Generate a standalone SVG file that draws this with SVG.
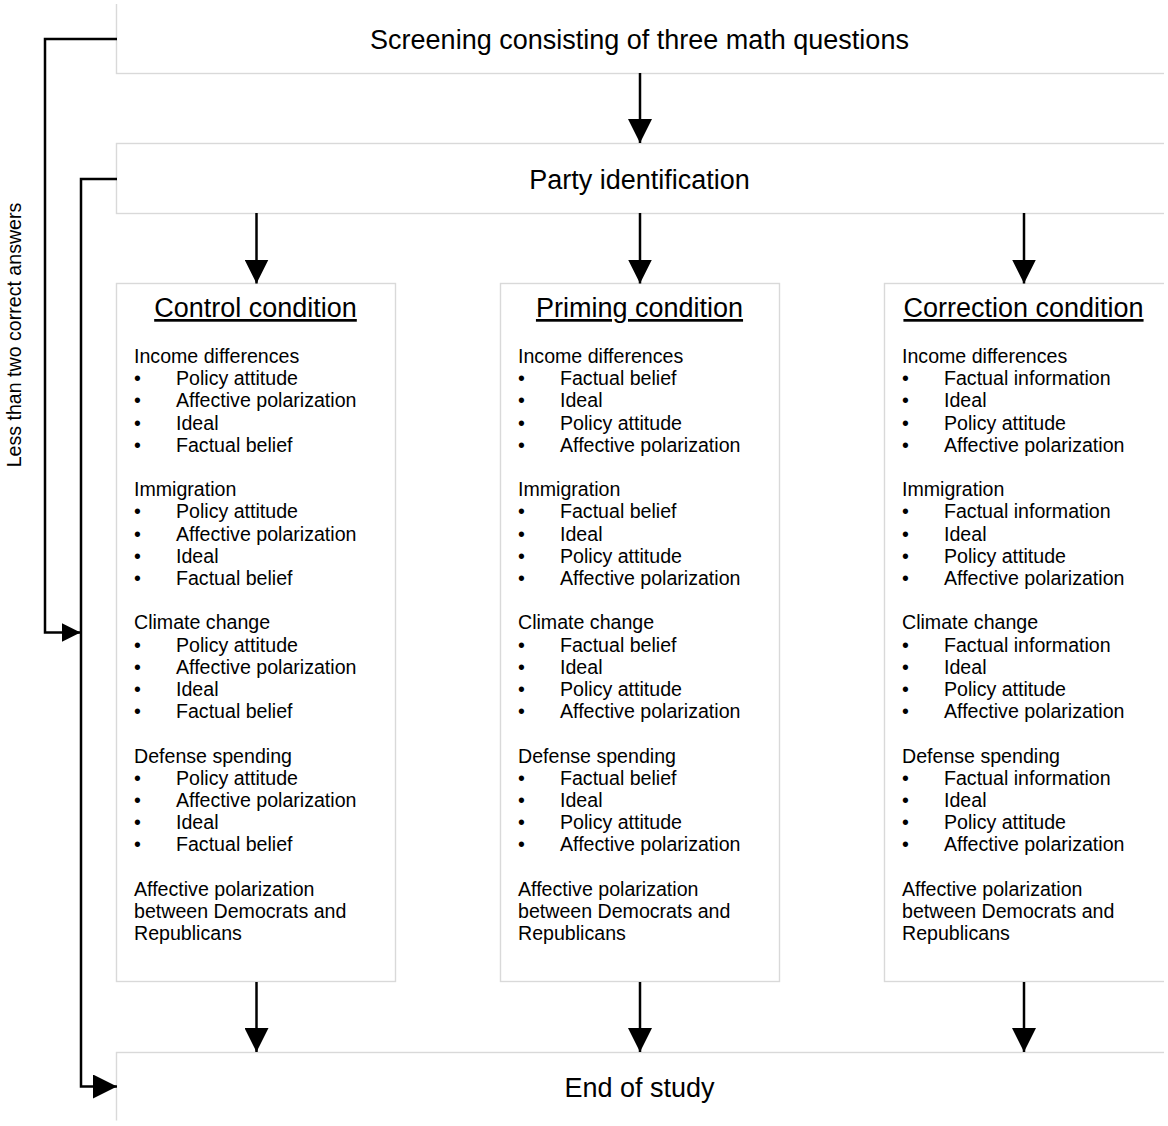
<svg xmlns="http://www.w3.org/2000/svg" width="1168" height="1126" viewBox="0 0 1168 1126">
<style>
.box{fill:#fff;stroke:#d9d9d9;stroke-width:1.4}
.big{font-family:"Liberation Sans",Arial,sans-serif;font-size:27px;fill:#000}
.ttl{font-family:"Liberation Sans",Arial,sans-serif;font-size:27px;fill:#000;text-anchor:middle;text-decoration:underline}
.t{font-family:"Liberation Sans",Arial,sans-serif;font-size:19.6px;fill:#000}
.ln{fill:none;stroke:#000;stroke-width:2.5}
</style>
<defs>
<clipPath id="frame"><rect x="0" y="4" width="1164" height="1116.5"/></clipPath>
<marker id="ah" markerUnits="userSpaceOnUse" markerWidth="24" markerHeight="24" refX="24" refY="12" orient="auto" viewBox="0 0 24 24"><path d="M0,0 L24,12 L0,24 z" fill="#000"/></marker>
<marker id="ahs" markerUnits="userSpaceOnUse" markerWidth="19" markerHeight="19" refX="19" refY="9.5" orient="auto" viewBox="0 0 19 19"><path d="M0,0 L19,9.5 L0,19 z" fill="#000"/></marker>
</defs>
<rect width="1168" height="1126" fill="#fff"/>

<g id="screening">
<rect class="box" x="116.5" y="-10" width="1070" height="83.5" clip-path="url(#frame)"/>
<text class="big" x="639.5" y="49" text-anchor="middle">Screening consisting of three math questions</text>
</g>

<g id="party">
<rect class="box" x="116.5" y="143.5" width="1070" height="70" clip-path="url(#frame)"/>
<text class="big" x="639.5" y="189" text-anchor="middle">Party identification</text>
</g>

<g id="control">
<rect class="box" x="116.5" y="283.5" width="279" height="698"/>
<text class="ttl" x="255.5" y="317">Control condition</text>
<text class="t">
<tspan x="134" y="363">Income differences</tspan>
<tspan x="134" y="385.2">•</tspan><tspan x="176" y="385.2">Policy attitude</tspan>
<tspan x="134" y="407.4">•</tspan><tspan x="176" y="407.4">Affective polarization</tspan>
<tspan x="134" y="429.6">•</tspan><tspan x="176" y="429.6">Ideal</tspan>
<tspan x="134" y="451.8">•</tspan><tspan x="176" y="451.8">Factual belief</tspan>
<tspan x="134" y="496.2">Immigration</tspan>
<tspan x="134" y="518.4">•</tspan><tspan x="176" y="518.4">Policy attitude</tspan>
<tspan x="134" y="540.6">•</tspan><tspan x="176" y="540.6">Affective polarization</tspan>
<tspan x="134" y="562.8">•</tspan><tspan x="176" y="562.8">Ideal</tspan>
<tspan x="134" y="585">•</tspan><tspan x="176" y="585">Factual belief</tspan>
<tspan x="134" y="629.4">Climate change</tspan>
<tspan x="134" y="651.6">•</tspan><tspan x="176" y="651.6">Policy attitude</tspan>
<tspan x="134" y="673.8">•</tspan><tspan x="176" y="673.8">Affective polarization</tspan>
<tspan x="134" y="696">•</tspan><tspan x="176" y="696">Ideal</tspan>
<tspan x="134" y="718.2">•</tspan><tspan x="176" y="718.2">Factual belief</tspan>
<tspan x="134" y="762.6">Defense spending</tspan>
<tspan x="134" y="784.8">•</tspan><tspan x="176" y="784.8">Policy attitude</tspan>
<tspan x="134" y="807">•</tspan><tspan x="176" y="807">Affective polarization</tspan>
<tspan x="134" y="829.2">•</tspan><tspan x="176" y="829.2">Ideal</tspan>
<tspan x="134" y="851.4">•</tspan><tspan x="176" y="851.4">Factual belief</tspan>
<tspan x="134" y="895.8">Affective polarization</tspan>
<tspan x="134" y="918">between Democrats and</tspan>
<tspan x="134" y="940.2">Republicans</tspan>
</text>
</g>

<g id="priming">
<rect class="box" x="500.5" y="283.5" width="279" height="698"/>
<text class="ttl" x="639.5" y="317">Priming condition</text>
<text class="t">
<tspan x="518" y="363">Income differences</tspan>
<tspan x="518" y="385.2">•</tspan><tspan x="560" y="385.2">Factual belief</tspan>
<tspan x="518" y="407.4">•</tspan><tspan x="560" y="407.4">Ideal</tspan>
<tspan x="518" y="429.6">•</tspan><tspan x="560" y="429.6">Policy attitude</tspan>
<tspan x="518" y="451.8">•</tspan><tspan x="560" y="451.8">Affective polarization</tspan>
<tspan x="518" y="496.2">Immigration</tspan>
<tspan x="518" y="518.4">•</tspan><tspan x="560" y="518.4">Factual belief</tspan>
<tspan x="518" y="540.6">•</tspan><tspan x="560" y="540.6">Ideal</tspan>
<tspan x="518" y="562.8">•</tspan><tspan x="560" y="562.8">Policy attitude</tspan>
<tspan x="518" y="585">•</tspan><tspan x="560" y="585">Affective polarization</tspan>
<tspan x="518" y="629.4">Climate change</tspan>
<tspan x="518" y="651.6">•</tspan><tspan x="560" y="651.6">Factual belief</tspan>
<tspan x="518" y="673.8">•</tspan><tspan x="560" y="673.8">Ideal</tspan>
<tspan x="518" y="696">•</tspan><tspan x="560" y="696">Policy attitude</tspan>
<tspan x="518" y="718.2">•</tspan><tspan x="560" y="718.2">Affective polarization</tspan>
<tspan x="518" y="762.6">Defense spending</tspan>
<tspan x="518" y="784.8">•</tspan><tspan x="560" y="784.8">Factual belief</tspan>
<tspan x="518" y="807">•</tspan><tspan x="560" y="807">Ideal</tspan>
<tspan x="518" y="829.2">•</tspan><tspan x="560" y="829.2">Policy attitude</tspan>
<tspan x="518" y="851.4">•</tspan><tspan x="560" y="851.4">Affective polarization</tspan>
<tspan x="518" y="895.8">Affective polarization</tspan>
<tspan x="518" y="918">between Democrats and</tspan>
<tspan x="518" y="940.2">Republicans</tspan>
</text>
</g>

<g id="correction">
<rect class="box" x="884.5" y="283.5" width="300" height="698" clip-path="url(#frame)"/>
<text class="ttl" x="1023.5" y="317">Correction condition</text>
<text class="t">
<tspan x="902" y="363">Income differences</tspan>
<tspan x="902" y="385.2">•</tspan><tspan x="944" y="385.2">Factual information</tspan>
<tspan x="902" y="407.4">•</tspan><tspan x="944" y="407.4">Ideal</tspan>
<tspan x="902" y="429.6">•</tspan><tspan x="944" y="429.6">Policy attitude</tspan>
<tspan x="902" y="451.8">•</tspan><tspan x="944" y="451.8">Affective polarization</tspan>
<tspan x="902" y="496.2">Immigration</tspan>
<tspan x="902" y="518.4">•</tspan><tspan x="944" y="518.4">Factual information</tspan>
<tspan x="902" y="540.6">•</tspan><tspan x="944" y="540.6">Ideal</tspan>
<tspan x="902" y="562.8">•</tspan><tspan x="944" y="562.8">Policy attitude</tspan>
<tspan x="902" y="585">•</tspan><tspan x="944" y="585">Affective polarization</tspan>
<tspan x="902" y="629.4">Climate change</tspan>
<tspan x="902" y="651.6">•</tspan><tspan x="944" y="651.6">Factual information</tspan>
<tspan x="902" y="673.8">•</tspan><tspan x="944" y="673.8">Ideal</tspan>
<tspan x="902" y="696">•</tspan><tspan x="944" y="696">Policy attitude</tspan>
<tspan x="902" y="718.2">•</tspan><tspan x="944" y="718.2">Affective polarization</tspan>
<tspan x="902" y="762.6">Defense spending</tspan>
<tspan x="902" y="784.8">•</tspan><tspan x="944" y="784.8">Factual information</tspan>
<tspan x="902" y="807">•</tspan><tspan x="944" y="807">Ideal</tspan>
<tspan x="902" y="829.2">•</tspan><tspan x="944" y="829.2">Policy attitude</tspan>
<tspan x="902" y="851.4">•</tspan><tspan x="944" y="851.4">Affective polarization</tspan>
<tspan x="902" y="895.8">Affective polarization</tspan>
<tspan x="902" y="918">between Democrats and</tspan>
<tspan x="902" y="940.2">Republicans</tspan>
</text>
</g>

<g id="end">
<rect class="box" x="116.5" y="1052.5" width="1070" height="90" clip-path="url(#frame)"/>
<text class="big" x="639.5" y="1097" text-anchor="middle">End of study</text>
</g>

<g id="connectors">
<path class="ln" d="M640,73 V143" marker-end="url(#ah)"/>
<path class="ln" d="M256.5,213 V283.5" marker-end="url(#ah)"/>
<path class="ln" d="M640,213 V283.5" marker-end="url(#ah)"/>
<path class="ln" d="M1024,213 V283.5" marker-end="url(#ah)"/>
<path class="ln" d="M256.5,982 V1052" marker-end="url(#ah)"/>
<path class="ln" d="M640,982 V1052" marker-end="url(#ah)"/>
<path class="ln" d="M1024,982 V1052" marker-end="url(#ah)"/>
<path class="ln" d="M117,39 H45 V632.5 H80.5" marker-end="url(#ahs)"/>
<path class="ln" d="M117,179 H81 V1086.5 H117" marker-end="url(#ah)"/>
<text class="t" transform="translate(21,335) rotate(-90)" text-anchor="middle">Less than two correct answers</text>
</g>
</svg>
